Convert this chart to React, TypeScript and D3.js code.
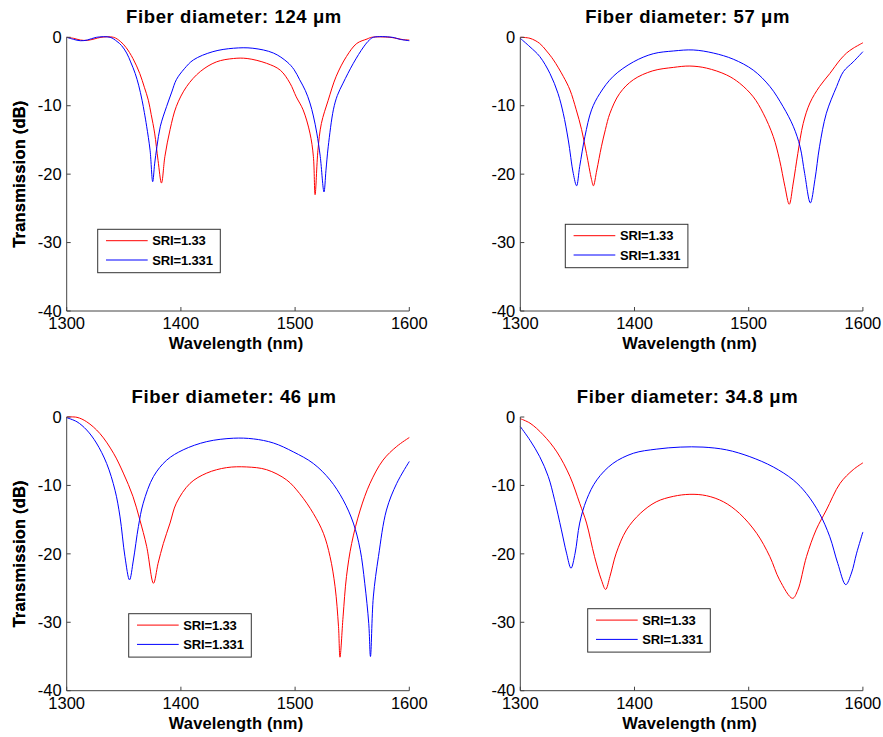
import React from "react";
import * as d3 from "d3";

type Pt = [number, number];

// Wavelength (nm) / transmission (dB) pairs
const d124_sri1330: Pt[] = [[1300,0],[1306,-0.15],[1312,-0.4],[1318,-0.45],[1324,-0.25],[1330,0],[1341,0],[1347,-0.6],[1352,-1.5],[1358,-3.1],[1364,-5.3],[1368,-7.3],[1371.5,-9.2],[1374,-11.3],[1377,-14],[1380,-18],[1383,-21.3],[1386,-17.4],[1390.5,-13.5],[1396,-10.1],[1405,-7.2],[1417,-5.0],[1431,-3.6],[1446,-3.1],[1458,-3.1],[1475,-3.8],[1487,-4.8],[1495.5,-6.7],[1501,-8.7],[1507,-10.6],[1513,-14],[1516,-17.4],[1517.5,-23],[1520,-16.5],[1523,-12.6],[1529,-9.2],[1536,-5.7],[1545,-2.8],[1554,-0.9],[1563,-0.25],[1567,0],[1583,0],[1590,-0.2],[1595,-0.35],[1600,-0.4]];
const d124_sri1331: Pt[] = [[1300,0],[1306,-0.3],[1312,-0.5],[1318,-0.4],[1326,0],[1338,0],[1344,-0.6],[1348,-1.2],[1352.5,-2.3],[1356,-3.6],[1360,-5.3],[1363,-7],[1366,-9.2],[1368,-11],[1370,-13],[1373,-16.5],[1375.3,-21.1],[1377,-18.5],[1379,-16],[1382,-13],[1387.5,-10.1],[1392,-8],[1396,-6.2],[1403,-4.6],[1411,-3.3],[1428,-2.1],[1446,-1.6],[1463,-1.6],[1481,-2.3],[1493,-3.6],[1499,-4.7],[1504,-6.2],[1509,-7.8],[1513,-9.6],[1516,-11.5],[1519,-14],[1522,-17.4],[1525.3,-22.6],[1527,-19.5],[1529,-16],[1533.5,-10.6],[1537,-8.5],[1542,-6.7],[1551,-3.8],[1560,-1.4],[1565,-0.4],[1568.5,0],[1585,0],[1592,-0.3],[1600,-0.5]];

const d57_sri1330: Pt[] = [[1300,0],[1308.5,-0.15],[1317,-0.9],[1323,-2],[1329,-3.3],[1337.6,-5.7],[1343.5,-7.7],[1349,-10.6],[1353.7,-13.5],[1358,-17],[1362.4,-20.8],[1364,-21.7],[1367,-19.4],[1371,-16],[1374.5,-13.5],[1378.5,-11.1],[1387,-8.2],[1399,-6.2],[1416,-4.9],[1434,-4.4],[1448.5,-4.2],[1463,-4.5],[1480.6,-5.5],[1492,-6.7],[1504,-8.7],[1512.7,-11.1],[1521.5,-14.5],[1527,-17.9],[1531.7,-21.8],[1535.5,-24.4],[1539,-21.3],[1543,-17],[1547.7,-12.6],[1553.6,-9.6],[1562,-7.2],[1571,-5.3],[1580,-3.3],[1585.7,-2.3],[1591.5,-1.6],[1600,-0.8]];
const d57_sri1331: Pt[] = [[1300,-0.15],[1308.5,-1.4],[1317,-2.8],[1326,-5.3],[1333,-8.2],[1337.6,-11.1],[1342,-15],[1346.4,-19.9],[1349.3,-21.7],[1352,-18.9],[1356.6,-14.5],[1362.4,-10.6],[1369.7,-8.2],[1381.4,-5.7],[1399,-3.6],[1416.4,-2.4],[1434,-2.0],[1451.4,-1.85],[1469,-2.3],[1486.5,-3.2],[1504,-4.8],[1518.6,-7.2],[1530,-10.1],[1539,-13],[1545,-16],[1549,-19.9],[1554,-24.2],[1558,-20.8],[1562,-16],[1568,-11.1],[1577,-7.2],[1583,-5.0],[1591.5,-3.6],[1600,-2.1]];

const d46_sri1330: Pt[] = [[1300,0],[1309,-0.05],[1317.5,-0.7],[1329,-2.4],[1341,-5.3],[1349.6,-8.2],[1358,-11.6],[1364,-15],[1370,-18.9],[1376,-24.3],[1380,-21.4],[1384.6,-18.5],[1390.5,-15.5],[1396,-12.6],[1408,-9.7],[1422.6,-8.2],[1440,-7.4],[1457.6,-7.3],[1475,-7.7],[1492.6,-9.2],[1504,-11.2],[1516,-14.1],[1524.8,-17],[1530.6,-20.4],[1535,-24.8],[1538,-30.6],[1539.3,-35.1],[1542,-29.2],[1545,-23.3],[1549.5,-18.5],[1557,-13.6],[1565.6,-9.7],[1577,-6.3],[1589,-4.3],[1600,-3.0]];
const d46_sri1331: Pt[] = [[1300,-0.1],[1309,-0.7],[1317.5,-1.9],[1326,-3.8],[1335,-6.8],[1342.3,-10.7],[1346.7,-14.6],[1351,-20.4],[1355,-23.8],[1358.4,-20.9],[1362.8,-16],[1367,-12.6],[1376,-8.7],[1387.6,-6.3],[1402,-4.8],[1422.6,-3.6],[1446,-3.1],[1463.5,-3.2],[1481,-3.8],[1498.5,-5.1],[1516,-6.8],[1530.6,-9.2],[1542,-12.1],[1551,-15.5],[1557,-19.4],[1561,-24.3],[1564.5,-30.2],[1566,-35],[1568.5,-26.3],[1573,-20.4],[1580,-13.6],[1589,-9.7],[1600,-6.5]];

const d348_sri1330: Pt[] = [[1300,-0.25],[1308.5,-0.9],[1320,-2.6],[1332,-5.1],[1343.5,-8.7],[1352,-12.6],[1358,-15.5],[1365,-20.4],[1371,-23.8],[1374.7,-25.2],[1378.5,-23.3],[1384,-19.9],[1393,-16.5],[1405,-14.1],[1419,-12.4],[1434,-11.6],[1448.5,-11.3],[1463,-11.5],[1478,-12.4],[1492,-14.1],[1507,-17],[1518.5,-20.4],[1527,-23.8],[1538.4,-26.5],[1543,-25.3],[1550.6,-20.4],[1559,-16.5],[1568,-13.6],[1580,-9.7],[1591.5,-7.7],[1600,-6.7]];
const d348_sri1331: Pt[] = [[1300,-1.4],[1308.5,-3.4],[1317,-5.8],[1324.5,-8.7],[1330,-12.1],[1336,-16.5],[1340.5,-19.9],[1344.4,-22.1],[1348,-19.9],[1352,-15.5],[1358,-12.1],[1367,-9.2],[1381,-6.8],[1399,-5.3],[1419,-4.7],[1440,-4.4],[1460,-4.4],[1480.6,-4.8],[1501,-5.8],[1521.5,-7.3],[1539,-9.2],[1550.6,-11.2],[1562,-14.1],[1571,-17.5],[1578,-21.4],[1585,-24.5],[1590,-22.8],[1594.5,-19.9],[1600,-16.8]];

const titles = ["Fiber diameter: 124 \u03bcm", "Fiber diameter: 57 \u03bcm", "Fiber diameter: 46 \u03bcm", "Fiber diameter: 34.8 \u03bcm"];
const seriesNames = ["SRI=1.33", "SRI=1.331"];
const xTicks = [1300, 1400, 1500, 1600];
const yTicks = [0, -10, -20, -30, -40];

const panelData: [Pt[], Pt[]][] = [
  [d124_sri1330, d124_sri1331],
  [d57_sri1330, d57_sri1331],
  [d46_sri1330, d46_sri1331],
  [d348_sri1330, d348_sri1331],
];

// layout
const AX_W = 342.6;
const AX_H = 273.7;
const panelPos = [
  { x: 66.7, y: 37.3, lx: 31, ly: 192 },
  { x: 520.3, y: 37.3, lx: 45, ly: 187 },
  { x: 66.7, y: 417, lx: 62, ly: 196.7 },
  { x: 520.3, y: 417, lx: 67.4, ly: 191.7 },
];
const colors = ["#ff0000", "#0000ff"];
const FONT = "'Liberation Sans', Arial, Helvetica, sans-serif";

function Panel({ idx }: { idx: number }) {
  const p = panelPos[idx];
  const x = d3.scaleLinear().domain([1300, 1600]).range([0, AX_W]);
  const y = d3.scaleLinear().domain([-40, 0]).range([AX_H, 0]);
  const line = d3.line<Pt>().x((d) => x(d[0])).y((d) => y(d[1])).curve(d3.curveCatmullRom.alpha(0.5));
  const axisColor = "#444";
  return (
    <g transform={`translate(${p.x},${p.y})`}>
      <text x={AX_W / 2 - 4} y={-14} textAnchor="middle" fontFamily={FONT} fontWeight="bold" fontSize={18.5} letterSpacing={0.6} fill="#000">
        {titles[idx]}
      </text>
      {panelData[idx].map((s, i) => (
        <path key={i} d={line(s) || ""} fill="none" stroke={colors[i]} strokeWidth={1} />
      ))}
      <line x1={0} y1={0} x2={0} y2={AX_H} stroke={axisColor} strokeWidth={1} />
      <line x1={0} y1={AX_H} x2={AX_W} y2={AX_H} stroke={axisColor} strokeWidth={1} />
      {xTicks.map((t) => (
        <g key={t}>
          <line x1={x(t)} x2={x(t)} y1={AX_H} y2={AX_H - 4} stroke={axisColor} />
          <text x={x(t)} y={AX_H + 18.5} textAnchor="middle" fontFamily={FONT} fontSize={16.5} fill="#000">
            {t}
          </text>
        </g>
      ))}
      {yTicks.map((t) => (
        <g key={t}>
          <line x1={0} x2={4} y1={y(t)} y2={y(t)} stroke={axisColor} />
          <text x={-5} y={y(t) + 5.7} textAnchor="end" fontFamily={FONT} fontSize={16.5} fill="#000">
            {t}
          </text>
        </g>
      ))}
      <text x={AX_W / 2 - 2} y={AX_H + 38} textAnchor="middle" fontFamily={FONT} fontWeight="bold" fontSize={16.5} letterSpacing={0.15} fill="#000">
        Wavelength (nm)
      </text>
      <text transform={`translate(${-p.x + 25},${AX_H / 2}) rotate(-90)`} textAnchor="middle" fontFamily={FONT} fontWeight="bold" fontSize={16.5} letterSpacing={0.2} fill="#000">
        Transmission (dB)
      </text>
      <g transform={`translate(${p.lx},${p.ly})`}>
        <rect x={0} y={0} width={122.6} height={43.4} fill="#fff" stroke="#333" strokeWidth={1} />
        {seriesNames.map((n, i) => (
          <g key={n}>
            <line x1={8.3} x2={50} y1={11.4 + i * 19.3} y2={11.4 + i * 19.3} stroke={colors[i]} strokeWidth={1} />
            <text x={54.6} y={16 + i * 19.3} fontFamily={FONT} fontWeight="bold" fontSize={13} fill="#000" letterSpacing={-0.15}>
              {n}
            </text>
          </g>
        ))}
      </g>
    </g>
  );
}

export default function App() {
  return (
    <svg width={883} height={737} style={{ position: "absolute", left: 0, top: 0, background: "#fff" }}>
      <rect x={0} y={0} width={883} height={737} fill="#fff" />
      {[0, 1, 2, 3].map((i) => (
        <Panel key={i} idx={i} />
      ))}
    </svg>
  );
}
